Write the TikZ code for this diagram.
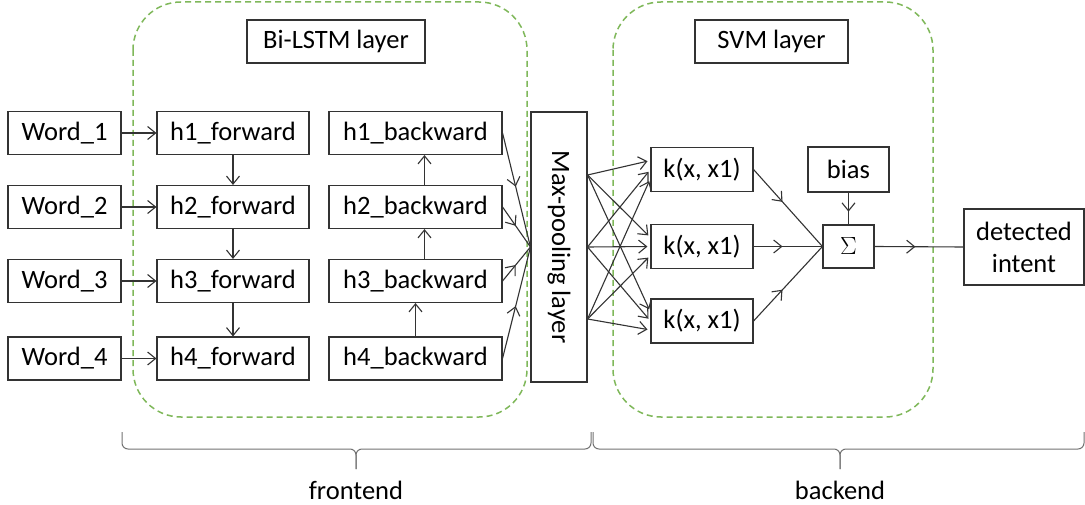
\documentclass[tikz,border=0pt]{standalone}
\usepackage{fontspec}
\usepackage{graphicx}
\setmainfont{Carlito}
\usetikzlibrary{arrows.meta,decorations.markings,calc}
\definecolor{lgreen}{HTML}{7FB85A}
\definecolor{ink}{HTML}{333333}
\begin{document}
\begin{tikzpicture}[x=1pt,y=-1pt,
  box/.style={draw=ink, line width=1.1pt, inner sep=0pt, font=\fontsize{26.5}{32}\selectfont, text=black},
  conn/.style={draw=ink, line width=1.1pt},
  tip/.style={-{Straight Barb[length=8pt,width=13pt]}, shorten >=#1},
  tip/.default=0pt,
  midarrow/.style={postaction={decorate}, decoration={markings, mark=at position #1 with {\arrow{Straight Barb[length=8pt,width=13pt]}}}},
  midarrow/.default=0.47,
  group/.style={draw=lgreen, line width=1.5pt, dash pattern=on 6pt off 4pt, rounded corners=48pt},
  bracepath/.style={draw=black!55, line width=1pt, rounded corners=6pt},
  lbl/.style={font=\fontsize{26.5}{32}\selectfont, text=black}
]
\useasboundingbox (0,0) rectangle (1085,505);
\fill[white] (0,0) rectangle (1085,505);

% group frames
\draw[group] (133,2) rectangle (527,417);
\draw[group] (613,2) rectangle (933,417);

% titles
\node[box, minimum width=178pt, minimum height=43pt] (bilstm) at (336,41.5) {Bi-LSTM layer};
\node[box, minimum width=153pt, minimum height=43pt] (svm) at (771.5,41.5) {SVM layer};

% words and hidden states
\node[box, minimum width=113pt, minimum height=43pt] (w1) at (64.5,133) {Word\_1};
\node[box, minimum width=113pt, minimum height=43pt] (w2) at (64.5,207) {Word\_2};
\node[box, minimum width=113pt, minimum height=43pt] (w3) at (64.5,281) {Word\_3};
\node[box, minimum width=113pt, minimum height=43pt] (w4) at (64.5,358.5) {Word\_4};

\node[box, minimum width=152pt, minimum height=43pt] (f1) at (233,133) {h1\_forward};
\node[box, minimum width=152pt, minimum height=43pt] (f2) at (233,207) {h2\_forward};
\node[box, minimum width=152pt, minimum height=43pt] (f3) at (233,281) {h3\_forward};
\node[box, minimum width=152pt, minimum height=43pt] (f4) at (233,358.5) {h4\_forward};

\node[box, minimum width=173pt, minimum height=43pt] (b1) at (415.5,133) {h1\_backward};
\node[box, minimum width=173pt, minimum height=43pt] (b2) at (415.5,207) {h2\_backward};
\node[box, minimum width=173pt, minimum height=43pt] (b3) at (415.5,281) {h3\_backward};
\node[box, minimum width=173pt, minimum height=43pt] (b4) at (415.5,358.5) {h4\_backward};

\node[box, minimum width=56pt, minimum height=270pt] (mp) at (559,247) {\rotatebox{-90}{Max-pooling layer}};

% SVM part
\node[box, minimum width=102pt, minimum height=44pt] (k1) at (702,169.5) {k(x, x1)};
\node[box, minimum width=102pt, minimum height=44pt] (k2) at (702,246.5) {k(x, x1)};
\node[box, minimum width=102pt, minimum height=44pt] (k3) at (702,321) {k(x, x1)};
\node[box, minimum width=81pt, minimum height=45pt] (bias) at (848.5,169.5) {bias};
\node[box, minimum width=51pt, minimum height=43pt, font=\fontsize{26}{30}\selectfont] (sg) at (848.5,246.5) {$\Sigma$};
\node[box, minimum width=120pt, minimum height=76pt, align=center] (det) at (1024,247) {detected\\intent};

% word -> forward
\foreach \i in {1,2,3,4} \draw[conn, tip] (w\i) -- (f\i);
% forward chain
\draw[conn, tip] (f1) -- (f2);
\draw[conn, tip] (f2) -- (f3);
\draw[conn, tip] (f3) -- (f4);
% backward chain
\draw[conn, tip] (b4) -- (b3);
\draw[conn, tip] ([xshift=9pt]b3.north) -- ([xshift=9pt]b2.south);
\draw[conn, tip] ([xshift=9pt]b2.north) -- ([xshift=9pt]b1.south);
% backward -> maxpool
\foreach \i in {1,2,3,4} \draw[conn, midarrow] (b\i.east) -- (mp.west);

% maxpool -> kernels
\coordinate (o1) at ([yshift=72pt]mp.east);
\coordinate (o2) at (mp.east);
\coordinate (o3) at ([yshift=-72pt]mp.east);
\foreach \o/\s in {o1/9,o2/0,o3/-9}
  \foreach \k in {k1,k2,k3}
    \draw[conn, tip=3pt] (\o) -- ([yshift=\s pt]\k.west);

% kernels -> sum
\draw[conn, midarrow=0.42] (k1.east) -- (sg.west);
\draw[conn, midarrow=0.42] (k2.east) -- (sg.west);
\draw[conn, midarrow=0.42] (k3.east) -- (sg.west);
\draw[conn, midarrow=0.6] (bias) -- (sg);
\draw[conn, midarrow=0.46] (sg.east) -- (det.west);

% braces
\draw[bracepath] (122,432) -- (122,449) -- (356,449) -- (356,469);
\draw[bracepath] (591,432) -- (591,449) -- (356,449) -- (356,469);
\draw[bracepath] (593,432) -- (593,449) -- (840,449) -- (840,469);
\draw[bracepath] (1084,432) -- (1084,449) -- (840,449) -- (840,469);

\node[lbl] (fe) at (356,490) {frontend};
\node[lbl] (be) at (840,490) {backend};
\end{tikzpicture}
\end{document}
